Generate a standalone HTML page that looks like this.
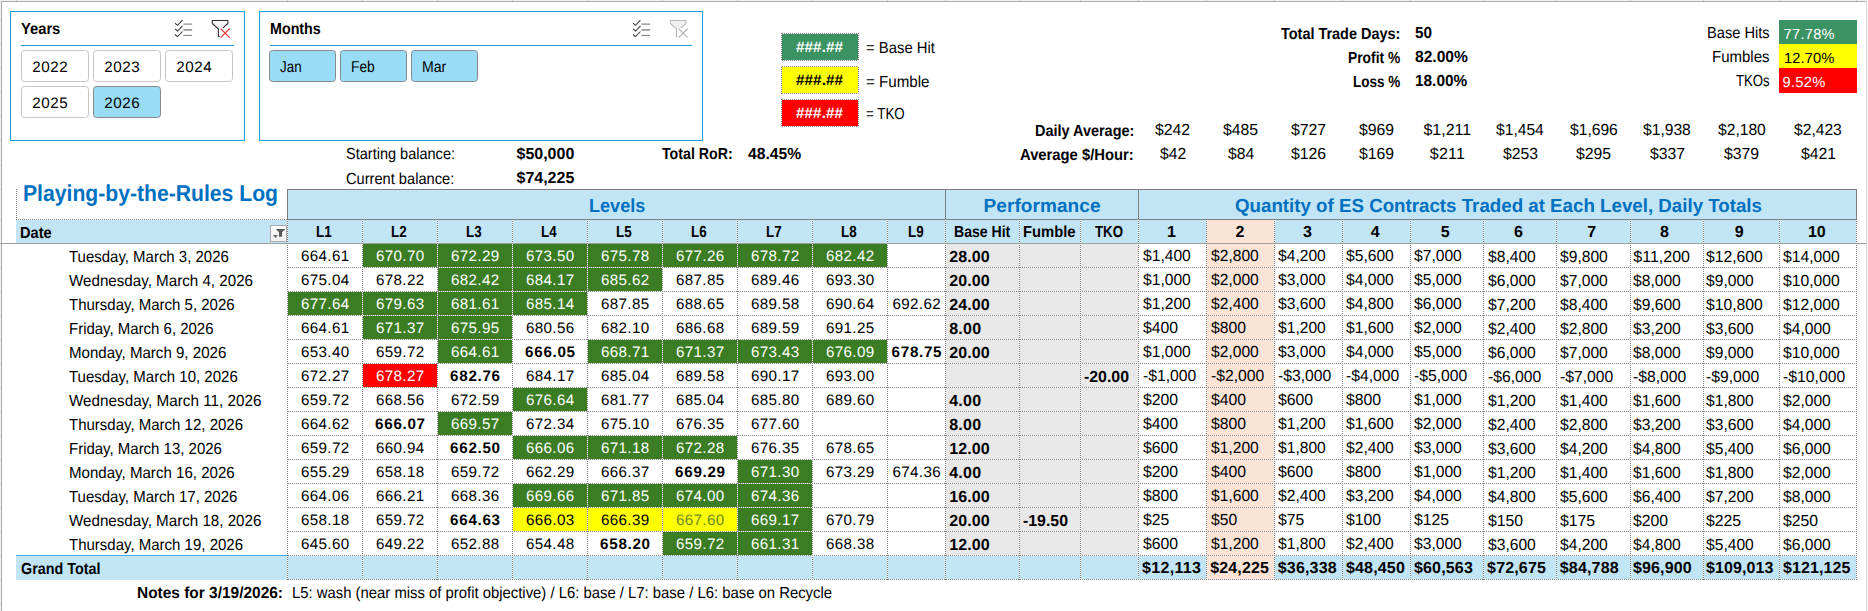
<!DOCTYPE html>
<html lang="en"><head><meta charset="utf-8"><title>Playing-by-the-Rules Log</title>
<style>
html,body{margin:0;padding:0;background:#fff}
body{width:1868px;height:611px;overflow:hidden;position:relative;font-family:"Liberation Sans",Arial,sans-serif;color:#000;text-rendering:geometricPrecision}
#sheet{position:absolute;left:0;top:0;width:1868px;height:611px;overflow:hidden;background:#fff}
.r{position:absolute}
.t{position:absolute;white-space:nowrap;line-height:20px;height:20px;transform-origin:0 50%}
.hd{position:absolute;height:1px;background-color:#fff;background-image:repeating-linear-gradient(90deg,#808080 0,#808080 1px,transparent 1px,transparent 2px)}
.vd{position:absolute;width:1px;background-color:#fff;background-image:repeating-linear-gradient(180deg,#808080 0,#808080 1px,transparent 1px,transparent 2px)}
.sl{position:absolute;border:1px solid #1e9bd7;background:#fff;box-sizing:content-box}
.bt{position:absolute;width:66px;height:30px;border:1px solid #c6c6c6;border-radius:3.5px;background:#fff;box-sizing:content-box}
.bt.sel{background:#99dcf8;border-color:#8a8a8a}
.fb{position:absolute;width:15px;height:15px;border:1px solid #a9a9a9;background:linear-gradient(#fff,#f1f1f1);box-sizing:content-box;overflow:hidden}
.fb svg{position:absolute;left:0;top:0}
.ic{position:absolute;overflow:visible}
</style></head>
<body><div id="sheet">
<section id="sheet-chrome" aria-label="Sheet frame">
<div class="r" style="left:0px;top:0px;width:1868px;height:1px;background:#f3f3f3;"></div>
<div class="r" style="left:0px;top:1px;width:1px;height:610px;background:#f3f3f3;"></div>
<div class="r" style="left:16px;top:0px;width:1px;height:1px;background:#cfcfcf;"></div>
<div class="r" style="left:287px;top:0px;width:1px;height:1px;background:#cfcfcf;"></div>
<div class="r" style="left:362px;top:0px;width:1px;height:1px;background:#cfcfcf;"></div>
<div class="r" style="left:437px;top:0px;width:1px;height:1px;background:#cfcfcf;"></div>
<div class="r" style="left:512px;top:0px;width:1px;height:1px;background:#cfcfcf;"></div>
<div class="r" style="left:587px;top:0px;width:1px;height:1px;background:#cfcfcf;"></div>
<div class="r" style="left:662px;top:0px;width:1px;height:1px;background:#cfcfcf;"></div>
<div class="r" style="left:737px;top:0px;width:1px;height:1px;background:#cfcfcf;"></div>
<div class="r" style="left:812px;top:0px;width:1px;height:1px;background:#cfcfcf;"></div>
<div class="r" style="left:887px;top:0px;width:1px;height:1px;background:#cfcfcf;"></div>
<div class="r" style="left:945px;top:0px;width:1px;height:1px;background:#cfcfcf;"></div>
<div class="r" style="left:1019px;top:0px;width:1px;height:1px;background:#cfcfcf;"></div>
<div class="r" style="left:1080px;top:0px;width:1px;height:1px;background:#cfcfcf;"></div>
<div class="r" style="left:1138px;top:0px;width:1px;height:1px;background:#cfcfcf;"></div>
<div class="r" style="left:1206px;top:0px;width:1px;height:1px;background:#cfcfcf;"></div>
<div class="r" style="left:1274px;top:0px;width:1px;height:1px;background:#cfcfcf;"></div>
<div class="r" style="left:1342px;top:0px;width:1px;height:1px;background:#cfcfcf;"></div>
<div class="r" style="left:1410px;top:0px;width:1px;height:1px;background:#cfcfcf;"></div>
<div class="r" style="left:1483px;top:0px;width:1px;height:1px;background:#cfcfcf;"></div>
<div class="r" style="left:1556px;top:0px;width:1px;height:1px;background:#cfcfcf;"></div>
<div class="r" style="left:1630px;top:0px;width:1px;height:1px;background:#cfcfcf;"></div>
<div class="r" style="left:1703px;top:0px;width:1px;height:1px;background:#cfcfcf;"></div>
<div class="r" style="left:1779px;top:0px;width:1px;height:1px;background:#cfcfcf;"></div>
<div class="r" style="left:1856px;top:0px;width:1px;height:1px;background:#cfcfcf;"></div>
<div class="r" style="left:0px;top:20px;width:1px;height:1px;background:#d6d6d6;"></div>
<div class="r" style="left:0px;top:44px;width:1px;height:1px;background:#d6d6d6;"></div>
<div class="r" style="left:0px;top:68px;width:1px;height:1px;background:#d6d6d6;"></div>
<div class="r" style="left:0px;top:92px;width:1px;height:1px;background:#d6d6d6;"></div>
<div class="r" style="left:0px;top:116px;width:1px;height:1px;background:#d6d6d6;"></div>
<div class="r" style="left:0px;top:140px;width:1px;height:1px;background:#d6d6d6;"></div>
<div class="r" style="left:0px;top:165px;width:1px;height:1px;background:#d6d6d6;"></div>
<div class="r" style="left:0px;top:189px;width:1px;height:1px;background:#d6d6d6;"></div>
<div class="r" style="left:0px;top:219px;width:1px;height:1px;background:#d6d6d6;"></div>
<div class="r" style="left:0px;top:267px;width:1px;height:1px;background:#d6d6d6;"></div>
<div class="r" style="left:0px;top:291px;width:1px;height:1px;background:#d6d6d6;"></div>
<div class="r" style="left:0px;top:315px;width:1px;height:1px;background:#d6d6d6;"></div>
<div class="r" style="left:0px;top:339px;width:1px;height:1px;background:#d6d6d6;"></div>
<div class="r" style="left:0px;top:363px;width:1px;height:1px;background:#d6d6d6;"></div>
<div class="r" style="left:0px;top:387px;width:1px;height:1px;background:#d6d6d6;"></div>
<div class="r" style="left:0px;top:411px;width:1px;height:1px;background:#d6d6d6;"></div>
<div class="r" style="left:0px;top:435px;width:1px;height:1px;background:#d6d6d6;"></div>
<div class="r" style="left:0px;top:459px;width:1px;height:1px;background:#d6d6d6;"></div>
<div class="r" style="left:0px;top:483px;width:1px;height:1px;background:#d6d6d6;"></div>
<div class="r" style="left:0px;top:507px;width:1px;height:1px;background:#d6d6d6;"></div>
<div class="r" style="left:0px;top:531px;width:1px;height:1px;background:#d6d6d6;"></div>
<div class="r" style="left:0px;top:555px;width:1px;height:1px;background:#d6d6d6;"></div>
<div class="r" style="left:0px;top:579px;width:1px;height:1px;background:#d6d6d6;"></div>
<div class="r" style="left:0px;top:603px;width:1px;height:1px;background:#d6d6d6;"></div>
<div class="r" style="left:1px;top:1px;width:1865px;height:1px;background:#ababab;"></div>
<div class="r" style="left:1px;top:2px;width:1px;height:609px;background:#ababab;"></div>
<div class="r" style="left:1866px;top:1px;width:1px;height:610px;background:#dedede;"></div>
<div class="r" style="left:1867px;top:1px;width:1px;height:610px;background:#f0f0f0;"></div>
</section>
<section id="log-table" aria-label="Playing-by-the-Rules Log pivot table">
<div class="r" style="left:287px;top:189px;width:1570px;height:31px;background:#c1e5f5;"></div>
<div class="r" style="left:16px;top:220px;width:1840px;height:23px;background:#c1e5f5;"></div>
<div class="r" style="left:1206px;top:220px;width:68px;height:23px;background:#fbe3d6;"></div>
<div class="r" style="left:946px;top:244px;width:192px;height:311px;background:#e8e8e8;"></div>
<div class="r" style="left:1207px;top:244px;width:67px;height:335px;background:#fbe3d6;"></div>
<div class="r" style="left:16px;top:556px;width:1190px;height:24px;background:#c1e5f5;"></div>
<div class="r" style="left:1274px;top:556px;width:582px;height:24px;background:#c1e5f5;"></div>
<div class="r" style="left:16px;top:555px;width:271px;height:1px;background:#44a9e0;"></div>
<div class="r" style="left:363px;top:244px;width:74px;height:23px;background:#3b7d23;"></div>
<div class="r" style="left:438px;top:244px;width:74px;height:23px;background:#3b7d23;"></div>
<div class="r" style="left:513px;top:244px;width:74px;height:23px;background:#3b7d23;"></div>
<div class="r" style="left:588px;top:244px;width:74px;height:23px;background:#3b7d23;"></div>
<div class="r" style="left:663px;top:244px;width:74px;height:23px;background:#3b7d23;"></div>
<div class="r" style="left:738px;top:244px;width:74px;height:23px;background:#3b7d23;"></div>
<div class="r" style="left:813px;top:244px;width:74px;height:23px;background:#3b7d23;"></div>
<div class="r" style="left:438px;top:268px;width:74px;height:23px;background:#3b7d23;"></div>
<div class="r" style="left:513px;top:268px;width:74px;height:23px;background:#3b7d23;"></div>
<div class="r" style="left:588px;top:268px;width:74px;height:23px;background:#3b7d23;"></div>
<div class="r" style="left:288px;top:292px;width:74px;height:23px;background:#3b7d23;"></div>
<div class="r" style="left:363px;top:292px;width:74px;height:23px;background:#3b7d23;"></div>
<div class="r" style="left:438px;top:292px;width:74px;height:23px;background:#3b7d23;"></div>
<div class="r" style="left:513px;top:292px;width:74px;height:23px;background:#3b7d23;"></div>
<div class="r" style="left:363px;top:316px;width:74px;height:23px;background:#3b7d23;"></div>
<div class="r" style="left:438px;top:316px;width:74px;height:23px;background:#3b7d23;"></div>
<div class="r" style="left:438px;top:340px;width:74px;height:23px;background:#3b7d23;"></div>
<div class="r" style="left:588px;top:340px;width:74px;height:23px;background:#3b7d23;"></div>
<div class="r" style="left:663px;top:340px;width:74px;height:23px;background:#3b7d23;"></div>
<div class="r" style="left:738px;top:340px;width:74px;height:23px;background:#3b7d23;"></div>
<div class="r" style="left:813px;top:340px;width:74px;height:23px;background:#3b7d23;"></div>
<div class="r" style="left:363px;top:364px;width:74px;height:23px;background:#ff0000;"></div>
<div class="r" style="left:513px;top:388px;width:74px;height:23px;background:#3b7d23;"></div>
<div class="r" style="left:438px;top:412px;width:74px;height:23px;background:#3b7d23;"></div>
<div class="r" style="left:513px;top:436px;width:74px;height:23px;background:#3b7d23;"></div>
<div class="r" style="left:588px;top:436px;width:74px;height:23px;background:#3b7d23;"></div>
<div class="r" style="left:663px;top:436px;width:74px;height:23px;background:#3b7d23;"></div>
<div class="r" style="left:738px;top:460px;width:74px;height:23px;background:#3b7d23;"></div>
<div class="r" style="left:513px;top:484px;width:74px;height:23px;background:#3b7d23;"></div>
<div class="r" style="left:588px;top:484px;width:74px;height:23px;background:#3b7d23;"></div>
<div class="r" style="left:663px;top:484px;width:74px;height:23px;background:#3b7d23;"></div>
<div class="r" style="left:738px;top:484px;width:74px;height:23px;background:#3b7d23;"></div>
<div class="r" style="left:513px;top:508px;width:74px;height:23px;background:#ffff00;"></div>
<div class="r" style="left:588px;top:508px;width:74px;height:23px;background:#ffff00;"></div>
<div class="r" style="left:663px;top:508px;width:74px;height:23px;background:#ffff00;"></div>
<div class="r" style="left:738px;top:508px;width:74px;height:23px;background:#3b7d23;"></div>
<div class="r" style="left:663px;top:532px;width:74px;height:23px;background:#3b7d23;"></div>
<div class="r" style="left:738px;top:532px;width:74px;height:23px;background:#3b7d23;"></div>
<div class="hd" style="left:287px;top:267px;width:1570px;background-position:1px 0"></div>
<div class="hd" style="left:287px;top:291px;width:1570px;background-position:1px 0"></div>
<div class="hd" style="left:287px;top:315px;width:1570px;background-position:1px 0"></div>
<div class="hd" style="left:287px;top:339px;width:1570px;background-position:1px 0"></div>
<div class="hd" style="left:287px;top:363px;width:1570px;background-position:1px 0"></div>
<div class="hd" style="left:287px;top:387px;width:1570px;background-position:1px 0"></div>
<div class="hd" style="left:287px;top:411px;width:1570px;background-position:1px 0"></div>
<div class="hd" style="left:287px;top:435px;width:1570px;background-position:1px 0"></div>
<div class="hd" style="left:287px;top:459px;width:1570px;background-position:1px 0"></div>
<div class="hd" style="left:287px;top:483px;width:1570px;background-position:1px 0"></div>
<div class="hd" style="left:287px;top:507px;width:1570px;background-position:1px 0"></div>
<div class="hd" style="left:287px;top:531px;width:1570px;background-position:1px 0"></div>
<div class="hd" style="left:287px;top:555px;width:1570px;background-position:1px 0"></div>
<div class="hd" style="left:287px;top:579px;width:1570px;background-position:1px 0"></div>
<div class="vd" style="left:287px;top:220px;height:360px;background-position:0 1px"></div>
<div class="vd" style="left:362px;top:220px;height:360px;background-position:0 1px"></div>
<div class="vd" style="left:437px;top:220px;height:360px;background-position:0 1px"></div>
<div class="vd" style="left:512px;top:220px;height:360px;background-position:0 1px"></div>
<div class="vd" style="left:587px;top:220px;height:360px;background-position:0 1px"></div>
<div class="vd" style="left:662px;top:220px;height:360px;background-position:0 1px"></div>
<div class="vd" style="left:737px;top:220px;height:360px;background-position:0 1px"></div>
<div class="vd" style="left:812px;top:220px;height:360px;background-position:0 1px"></div>
<div class="vd" style="left:887px;top:220px;height:360px;background-position:0 1px"></div>
<div class="vd" style="left:945px;top:220px;height:360px;background-position:0 1px"></div>
<div class="vd" style="left:1019px;top:220px;height:360px;background-position:0 1px"></div>
<div class="vd" style="left:1080px;top:220px;height:360px;background-position:0 1px"></div>
<div class="vd" style="left:1138px;top:220px;height:360px;background-position:0 1px"></div>
<div class="vd" style="left:1206px;top:220px;height:360px;background-position:0 1px"></div>
<div class="vd" style="left:1274px;top:220px;height:360px;background-position:0 1px"></div>
<div class="vd" style="left:1342px;top:220px;height:360px;background-position:0 1px"></div>
<div class="vd" style="left:1410px;top:220px;height:360px;background-position:0 1px"></div>
<div class="vd" style="left:1483px;top:220px;height:360px;background-position:0 1px"></div>
<div class="vd" style="left:1556px;top:220px;height:360px;background-position:0 1px"></div>
<div class="vd" style="left:1630px;top:220px;height:360px;background-position:0 1px"></div>
<div class="vd" style="left:1703px;top:220px;height:360px;background-position:0 1px"></div>
<div class="vd" style="left:1779px;top:220px;height:360px;background-position:0 1px"></div>
<div class="vd" style="left:1856px;top:220px;height:360px;background-position:0 1px"></div>
<div class="hd" style="left:16px;top:219px;width:271px;background-position:0px 0"></div>
<div class="vd" style="left:16px;top:189px;height:31px;background-position:0 0px"></div>
<div class="r" style="left:287px;top:189px;width:1570px;height:1px;background:#7f7f7f;"></div>
<div class="r" style="left:287px;top:219px;width:1570px;height:1px;background:#7f7f7f;"></div>
<div class="r" style="left:287px;top:189px;width:1px;height:31px;background:#7f7f7f;"></div>
<div class="r" style="left:945px;top:189px;width:1px;height:31px;background:#7f7f7f;"></div>
<div class="r" style="left:1138px;top:189px;width:1px;height:31px;background:#7f7f7f;"></div>
<div class="r" style="left:1856px;top:189px;width:1px;height:31px;background:#7f7f7f;"></div>
<div class="r" style="left:0px;top:243px;width:1866px;height:1px;background:#9e9e9e;"></div>
<div class="t " style="left:69.00px;top:248px;font-size:16px;transform:scaleX(0.9359);">Tuesday, March 3, 2026</div>
<div class="t " style="left:300.95px;top:247px;font-size:15.2px;letter-spacing:0.361px;">664.61</div>
<div class="t " style="left:375.95px;top:247px;font-size:15.2px;letter-spacing:0.361px;color:#fff;">670.70</div>
<div class="t " style="left:450.95px;top:247px;font-size:15.2px;letter-spacing:0.361px;color:#fff;">672.29</div>
<div class="t " style="left:525.95px;top:247px;font-size:15.2px;letter-spacing:0.361px;color:#fff;">673.50</div>
<div class="t " style="left:600.95px;top:247px;font-size:15.2px;letter-spacing:0.361px;color:#fff;">675.78</div>
<div class="t " style="left:675.95px;top:247px;font-size:15.2px;letter-spacing:0.361px;color:#fff;">677.26</div>
<div class="t " style="left:750.95px;top:247px;font-size:15.2px;letter-spacing:0.361px;color:#fff;">678.72</div>
<div class="t " style="left:825.95px;top:247px;font-size:15.2px;letter-spacing:0.361px;color:#fff;">682.42</div>
<div class="t " style="left:949.20px;top:248px;font-size:16px;letter-spacing:0.092px;font-weight:700;">28.00</div>
<div class="t " style="left:1142.50px;top:247px;font-size:16px;transform:scaleX(0.9766);">$1,400</div>
<div class="t " style="left:1210.60px;top:247px;font-size:16px;transform:scaleX(0.9766);">$2,800</div>
<div class="t " style="left:1278.20px;top:247px;font-size:16px;transform:scaleX(0.9766);">$4,200</div>
<div class="t " style="left:1346.40px;top:247px;font-size:16px;transform:scaleX(0.9766);">$5,600</div>
<div class="t " style="left:1414.40px;top:247px;font-size:16px;transform:scaleX(0.9766);">$7,000</div>
<div class="t " style="left:1487.50px;top:248px;font-size:16px;transform:scaleX(0.9766);">$8,400</div>
<div class="t " style="left:1560.20px;top:248px;font-size:16px;transform:scaleX(0.9766);">$9,800</div>
<div class="t " style="left:1633.30px;top:248px;font-size:16px;letter-spacing:0.007px;">$11,200</div>
<div class="t " style="left:1706.40px;top:248px;font-size:16px;transform:scaleX(0.9803);">$12,600</div>
<div class="t " style="left:1783.40px;top:248px;font-size:16px;transform:scaleX(0.9803);">$14,000</div>
<div class="t " style="left:69.00px;top:272px;font-size:16px;transform:scaleX(0.9475);">Wednesday, March 4, 2026</div>
<div class="t " style="left:300.95px;top:271px;font-size:15.2px;letter-spacing:0.361px;">675.04</div>
<div class="t " style="left:375.95px;top:271px;font-size:15.2px;letter-spacing:0.361px;">678.22</div>
<div class="t " style="left:450.95px;top:271px;font-size:15.2px;letter-spacing:0.361px;color:#fff;">682.42</div>
<div class="t " style="left:525.95px;top:271px;font-size:15.2px;letter-spacing:0.361px;color:#fff;">684.17</div>
<div class="t " style="left:600.95px;top:271px;font-size:15.2px;letter-spacing:0.361px;color:#fff;">685.62</div>
<div class="t " style="left:675.95px;top:271px;font-size:15.2px;letter-spacing:0.361px;">687.85</div>
<div class="t " style="left:750.95px;top:271px;font-size:15.2px;letter-spacing:0.361px;">689.46</div>
<div class="t " style="left:825.95px;top:271px;font-size:15.2px;letter-spacing:0.361px;">693.30</div>
<div class="t " style="left:949.20px;top:272px;font-size:16px;letter-spacing:0.092px;font-weight:700;">20.00</div>
<div class="t " style="left:1142.50px;top:271px;font-size:16px;transform:scaleX(0.9766);">$1,000</div>
<div class="t " style="left:1210.60px;top:271px;font-size:16px;transform:scaleX(0.9766);">$2,000</div>
<div class="t " style="left:1278.20px;top:271px;font-size:16px;transform:scaleX(0.9766);">$3,000</div>
<div class="t " style="left:1346.40px;top:271px;font-size:16px;transform:scaleX(0.9766);">$4,000</div>
<div class="t " style="left:1414.40px;top:271px;font-size:16px;transform:scaleX(0.9766);">$5,000</div>
<div class="t " style="left:1487.50px;top:272px;font-size:16px;transform:scaleX(0.9766);">$6,000</div>
<div class="t " style="left:1560.20px;top:272px;font-size:16px;transform:scaleX(0.9766);">$7,000</div>
<div class="t " style="left:1633.30px;top:272px;font-size:16px;transform:scaleX(0.9766);">$8,000</div>
<div class="t " style="left:1706.40px;top:272px;font-size:16px;transform:scaleX(0.9766);">$9,000</div>
<div class="t " style="left:1783.40px;top:272px;font-size:16px;transform:scaleX(0.9803);">$10,000</div>
<div class="t " style="left:69.00px;top:296px;font-size:16px;transform:scaleX(0.9372);">Thursday, March 5, 2026</div>
<div class="t " style="left:300.95px;top:295px;font-size:15.2px;letter-spacing:0.361px;color:#fff;">677.64</div>
<div class="t " style="left:375.95px;top:295px;font-size:15.2px;letter-spacing:0.361px;color:#fff;">679.63</div>
<div class="t " style="left:450.95px;top:295px;font-size:15.2px;letter-spacing:0.361px;color:#fff;">681.61</div>
<div class="t " style="left:525.95px;top:295px;font-size:15.2px;letter-spacing:0.361px;color:#fff;">685.14</div>
<div class="t " style="left:600.95px;top:295px;font-size:15.2px;letter-spacing:0.361px;">687.85</div>
<div class="t " style="left:675.95px;top:295px;font-size:15.2px;letter-spacing:0.361px;">688.65</div>
<div class="t " style="left:750.95px;top:295px;font-size:15.2px;letter-spacing:0.361px;">689.58</div>
<div class="t " style="left:825.95px;top:295px;font-size:15.2px;letter-spacing:0.361px;">690.64</div>
<div class="t " style="left:892.45px;top:295px;font-size:15.2px;letter-spacing:0.361px;">692.62</div>
<div class="t " style="left:949.20px;top:296px;font-size:16px;letter-spacing:0.092px;font-weight:700;">24.00</div>
<div class="t " style="left:1142.50px;top:295px;font-size:16px;transform:scaleX(0.9766);">$1,200</div>
<div class="t " style="left:1210.60px;top:295px;font-size:16px;transform:scaleX(0.9766);">$2,400</div>
<div class="t " style="left:1278.20px;top:295px;font-size:16px;transform:scaleX(0.9766);">$3,600</div>
<div class="t " style="left:1346.40px;top:295px;font-size:16px;transform:scaleX(0.9766);">$4,800</div>
<div class="t " style="left:1414.40px;top:295px;font-size:16px;transform:scaleX(0.9766);">$6,000</div>
<div class="t " style="left:1487.50px;top:296px;font-size:16px;transform:scaleX(0.9766);">$7,200</div>
<div class="t " style="left:1560.20px;top:296px;font-size:16px;transform:scaleX(0.9766);">$8,400</div>
<div class="t " style="left:1633.30px;top:296px;font-size:16px;transform:scaleX(0.9766);">$9,600</div>
<div class="t " style="left:1706.40px;top:296px;font-size:16px;transform:scaleX(0.9803);">$10,800</div>
<div class="t " style="left:1783.40px;top:296px;font-size:16px;transform:scaleX(0.9803);">$12,000</div>
<div class="t " style="left:69.00px;top:320px;font-size:16px;transform:scaleX(0.9357);">Friday, March 6, 2026</div>
<div class="t " style="left:300.95px;top:319px;font-size:15.2px;letter-spacing:0.361px;">664.61</div>
<div class="t " style="left:375.95px;top:319px;font-size:15.2px;letter-spacing:0.361px;color:#fff;">671.37</div>
<div class="t " style="left:450.95px;top:319px;font-size:15.2px;letter-spacing:0.361px;color:#fff;">675.95</div>
<div class="t " style="left:525.95px;top:319px;font-size:15.2px;letter-spacing:0.361px;">680.56</div>
<div class="t " style="left:600.95px;top:319px;font-size:15.2px;letter-spacing:0.361px;">682.10</div>
<div class="t " style="left:675.95px;top:319px;font-size:15.2px;letter-spacing:0.361px;">686.68</div>
<div class="t " style="left:750.95px;top:319px;font-size:15.2px;letter-spacing:0.361px;">689.59</div>
<div class="t " style="left:825.95px;top:319px;font-size:15.2px;letter-spacing:0.361px;">691.25</div>
<div class="t " style="left:949.20px;top:320px;font-size:16px;letter-spacing:0.288px;font-weight:700;">8.00</div>
<div class="t " style="left:1142.50px;top:319px;font-size:16px;transform:scaleX(0.9860);">$400</div>
<div class="t " style="left:1210.60px;top:319px;font-size:16px;transform:scaleX(0.9860);">$800</div>
<div class="t " style="left:1278.20px;top:319px;font-size:16px;transform:scaleX(0.9766);">$1,200</div>
<div class="t " style="left:1346.40px;top:319px;font-size:16px;transform:scaleX(0.9766);">$1,600</div>
<div class="t " style="left:1414.40px;top:319px;font-size:16px;transform:scaleX(0.9766);">$2,000</div>
<div class="t " style="left:1487.50px;top:320px;font-size:16px;transform:scaleX(0.9766);">$2,400</div>
<div class="t " style="left:1560.20px;top:320px;font-size:16px;transform:scaleX(0.9766);">$2,800</div>
<div class="t " style="left:1633.30px;top:320px;font-size:16px;transform:scaleX(0.9766);">$3,200</div>
<div class="t " style="left:1706.40px;top:320px;font-size:16px;transform:scaleX(0.9766);">$3,600</div>
<div class="t " style="left:1783.40px;top:320px;font-size:16px;transform:scaleX(0.9766);">$4,000</div>
<div class="t " style="left:69.00px;top:344px;font-size:16px;transform:scaleX(0.9424);">Monday, March 9, 2026</div>
<div class="t " style="left:300.95px;top:343px;font-size:15.2px;letter-spacing:0.361px;">653.40</div>
<div class="t " style="left:375.95px;top:343px;font-size:15.2px;letter-spacing:0.361px;">659.72</div>
<div class="t " style="left:450.95px;top:343px;font-size:15.2px;letter-spacing:0.361px;color:#fff;">664.61</div>
<div class="t " style="left:525.10px;top:343px;font-size:15.2px;letter-spacing:0.701px;font-weight:700;">666.05</div>
<div class="t " style="left:600.95px;top:343px;font-size:15.2px;letter-spacing:0.361px;color:#fff;">668.71</div>
<div class="t " style="left:675.95px;top:343px;font-size:15.2px;letter-spacing:0.361px;color:#fff;">671.37</div>
<div class="t " style="left:750.95px;top:343px;font-size:15.2px;letter-spacing:0.361px;color:#fff;">673.43</div>
<div class="t " style="left:825.95px;top:343px;font-size:15.2px;letter-spacing:0.361px;color:#fff;">676.09</div>
<div class="t " style="left:891.60px;top:343px;font-size:15.2px;letter-spacing:0.701px;font-weight:700;">678.75</div>
<div class="t " style="left:949.20px;top:344px;font-size:16px;letter-spacing:0.092px;font-weight:700;">20.00</div>
<div class="t " style="left:1142.50px;top:343px;font-size:16px;transform:scaleX(0.9766);">$1,000</div>
<div class="t " style="left:1210.60px;top:343px;font-size:16px;transform:scaleX(0.9766);">$2,000</div>
<div class="t " style="left:1278.20px;top:343px;font-size:16px;transform:scaleX(0.9766);">$3,000</div>
<div class="t " style="left:1346.40px;top:343px;font-size:16px;transform:scaleX(0.9766);">$4,000</div>
<div class="t " style="left:1414.40px;top:343px;font-size:16px;transform:scaleX(0.9766);">$5,000</div>
<div class="t " style="left:1487.50px;top:344px;font-size:16px;transform:scaleX(0.9766);">$6,000</div>
<div class="t " style="left:1560.20px;top:344px;font-size:16px;transform:scaleX(0.9766);">$7,000</div>
<div class="t " style="left:1633.30px;top:344px;font-size:16px;transform:scaleX(0.9766);">$8,000</div>
<div class="t " style="left:1706.40px;top:344px;font-size:16px;transform:scaleX(0.9766);">$9,000</div>
<div class="t " style="left:1783.40px;top:344px;font-size:16px;transform:scaleX(0.9803);">$10,000</div>
<div class="t " style="left:69.00px;top:368px;font-size:16px;transform:scaleX(0.9395);">Tuesday, March 10, 2026</div>
<div class="t " style="left:300.95px;top:367px;font-size:15.2px;letter-spacing:0.361px;">672.27</div>
<div class="t " style="left:375.95px;top:367px;font-size:15.2px;letter-spacing:0.361px;color:#fff;">678.27</div>
<div class="t " style="left:450.10px;top:367px;font-size:15.2px;letter-spacing:0.701px;font-weight:700;">682.76</div>
<div class="t " style="left:525.95px;top:367px;font-size:15.2px;letter-spacing:0.361px;">684.17</div>
<div class="t " style="left:600.95px;top:367px;font-size:15.2px;letter-spacing:0.361px;">685.04</div>
<div class="t " style="left:675.95px;top:367px;font-size:15.2px;letter-spacing:0.361px;">689.58</div>
<div class="t " style="left:750.95px;top:367px;font-size:15.2px;letter-spacing:0.361px;">690.17</div>
<div class="t " style="left:825.95px;top:367px;font-size:15.2px;letter-spacing:0.361px;">693.00</div>
<div class="t " style="left:1084.30px;top:368px;font-size:16px;font-weight:700;transform:scaleX(0.9921);">-20.00</div>
<div class="t " style="left:1142.50px;top:367px;font-size:16px;transform:scaleX(0.9821);">-$1,000</div>
<div class="t " style="left:1210.60px;top:367px;font-size:16px;transform:scaleX(0.9821);">-$2,000</div>
<div class="t " style="left:1278.20px;top:367px;font-size:16px;transform:scaleX(0.9821);">-$3,000</div>
<div class="t " style="left:1346.40px;top:367px;font-size:16px;transform:scaleX(0.9821);">-$4,000</div>
<div class="t " style="left:1414.40px;top:367px;font-size:16px;transform:scaleX(0.9821);">-$5,000</div>
<div class="t " style="left:1487.50px;top:368px;font-size:16px;transform:scaleX(0.9821);">-$6,000</div>
<div class="t " style="left:1560.20px;top:368px;font-size:16px;transform:scaleX(0.9821);">-$7,000</div>
<div class="t " style="left:1633.30px;top:368px;font-size:16px;transform:scaleX(0.9821);">-$8,000</div>
<div class="t " style="left:1706.40px;top:368px;font-size:16px;transform:scaleX(0.9821);">-$9,000</div>
<div class="t " style="left:1783.40px;top:368px;font-size:16px;transform:scaleX(0.9847);">-$10,000</div>
<div class="t " style="left:69.00px;top:392px;font-size:16px;transform:scaleX(0.9529);">Wednesday, March 11, 2026</div>
<div class="t " style="left:300.95px;top:391px;font-size:15.2px;letter-spacing:0.361px;">659.72</div>
<div class="t " style="left:375.95px;top:391px;font-size:15.2px;letter-spacing:0.361px;">668.56</div>
<div class="t " style="left:450.95px;top:391px;font-size:15.2px;letter-spacing:0.361px;">672.59</div>
<div class="t " style="left:525.95px;top:391px;font-size:15.2px;letter-spacing:0.361px;color:#fff;">676.64</div>
<div class="t " style="left:600.95px;top:391px;font-size:15.2px;letter-spacing:0.361px;">681.77</div>
<div class="t " style="left:675.95px;top:391px;font-size:15.2px;letter-spacing:0.361px;">685.04</div>
<div class="t " style="left:750.95px;top:391px;font-size:15.2px;letter-spacing:0.361px;">685.80</div>
<div class="t " style="left:825.95px;top:391px;font-size:15.2px;letter-spacing:0.361px;">689.60</div>
<div class="t " style="left:949.20px;top:392px;font-size:16px;letter-spacing:0.288px;font-weight:700;">4.00</div>
<div class="t " style="left:1142.50px;top:391px;font-size:16px;transform:scaleX(0.9860);">$200</div>
<div class="t " style="left:1210.60px;top:391px;font-size:16px;transform:scaleX(0.9860);">$400</div>
<div class="t " style="left:1278.20px;top:391px;font-size:16px;transform:scaleX(0.9860);">$600</div>
<div class="t " style="left:1346.40px;top:391px;font-size:16px;transform:scaleX(0.9860);">$800</div>
<div class="t " style="left:1414.40px;top:391px;font-size:16px;transform:scaleX(0.9766);">$1,000</div>
<div class="t " style="left:1487.50px;top:392px;font-size:16px;transform:scaleX(0.9766);">$1,200</div>
<div class="t " style="left:1560.20px;top:392px;font-size:16px;transform:scaleX(0.9766);">$1,400</div>
<div class="t " style="left:1633.30px;top:392px;font-size:16px;transform:scaleX(0.9766);">$1,600</div>
<div class="t " style="left:1706.40px;top:392px;font-size:16px;transform:scaleX(0.9766);">$1,800</div>
<div class="t " style="left:1783.40px;top:392px;font-size:16px;transform:scaleX(0.9766);">$2,000</div>
<div class="t " style="left:69.00px;top:416px;font-size:16px;transform:scaleX(0.9376);">Thursday, March 12, 2026</div>
<div class="t " style="left:300.95px;top:415px;font-size:15.2px;letter-spacing:0.361px;">664.62</div>
<div class="t " style="left:375.10px;top:415px;font-size:15.2px;letter-spacing:0.701px;font-weight:700;">666.07</div>
<div class="t " style="left:450.95px;top:415px;font-size:15.2px;letter-spacing:0.361px;color:#fff;">669.57</div>
<div class="t " style="left:525.95px;top:415px;font-size:15.2px;letter-spacing:0.361px;">672.34</div>
<div class="t " style="left:600.95px;top:415px;font-size:15.2px;letter-spacing:0.361px;">675.10</div>
<div class="t " style="left:675.95px;top:415px;font-size:15.2px;letter-spacing:0.361px;">676.35</div>
<div class="t " style="left:750.95px;top:415px;font-size:15.2px;letter-spacing:0.361px;">677.60</div>
<div class="t " style="left:949.20px;top:416px;font-size:16px;letter-spacing:0.288px;font-weight:700;">8.00</div>
<div class="t " style="left:1142.50px;top:415px;font-size:16px;transform:scaleX(0.9860);">$400</div>
<div class="t " style="left:1210.60px;top:415px;font-size:16px;transform:scaleX(0.9860);">$800</div>
<div class="t " style="left:1278.20px;top:415px;font-size:16px;transform:scaleX(0.9766);">$1,200</div>
<div class="t " style="left:1346.40px;top:415px;font-size:16px;transform:scaleX(0.9766);">$1,600</div>
<div class="t " style="left:1414.40px;top:415px;font-size:16px;transform:scaleX(0.9766);">$2,000</div>
<div class="t " style="left:1487.50px;top:416px;font-size:16px;transform:scaleX(0.9766);">$2,400</div>
<div class="t " style="left:1560.20px;top:416px;font-size:16px;transform:scaleX(0.9766);">$2,800</div>
<div class="t " style="left:1633.30px;top:416px;font-size:16px;transform:scaleX(0.9766);">$3,200</div>
<div class="t " style="left:1706.40px;top:416px;font-size:16px;transform:scaleX(0.9766);">$3,600</div>
<div class="t " style="left:1783.40px;top:416px;font-size:16px;transform:scaleX(0.9766);">$4,000</div>
<div class="t " style="left:69.00px;top:440px;font-size:16px;transform:scaleX(0.9361);">Friday, March 13, 2026</div>
<div class="t " style="left:300.95px;top:439px;font-size:15.2px;letter-spacing:0.361px;">659.72</div>
<div class="t " style="left:375.95px;top:439px;font-size:15.2px;letter-spacing:0.361px;">660.94</div>
<div class="t " style="left:450.10px;top:439px;font-size:15.2px;letter-spacing:0.701px;font-weight:700;">662.50</div>
<div class="t " style="left:525.95px;top:439px;font-size:15.2px;letter-spacing:0.361px;color:#fff;">666.06</div>
<div class="t " style="left:600.95px;top:439px;font-size:15.2px;letter-spacing:0.361px;color:#fff;">671.18</div>
<div class="t " style="left:675.95px;top:439px;font-size:15.2px;letter-spacing:0.361px;color:#fff;">672.28</div>
<div class="t " style="left:750.95px;top:439px;font-size:15.2px;letter-spacing:0.361px;">676.35</div>
<div class="t " style="left:825.95px;top:439px;font-size:15.2px;letter-spacing:0.361px;">678.65</div>
<div class="t " style="left:949.20px;top:440px;font-size:16px;letter-spacing:0.092px;font-weight:700;">12.00</div>
<div class="t " style="left:1142.50px;top:439px;font-size:16px;transform:scaleX(0.9860);">$600</div>
<div class="t " style="left:1210.60px;top:439px;font-size:16px;transform:scaleX(0.9766);">$1,200</div>
<div class="t " style="left:1278.20px;top:439px;font-size:16px;transform:scaleX(0.9766);">$1,800</div>
<div class="t " style="left:1346.40px;top:439px;font-size:16px;transform:scaleX(0.9766);">$2,400</div>
<div class="t " style="left:1414.40px;top:439px;font-size:16px;transform:scaleX(0.9766);">$3,000</div>
<div class="t " style="left:1487.50px;top:440px;font-size:16px;transform:scaleX(0.9766);">$3,600</div>
<div class="t " style="left:1560.20px;top:440px;font-size:16px;transform:scaleX(0.9766);">$4,200</div>
<div class="t " style="left:1633.30px;top:440px;font-size:16px;transform:scaleX(0.9766);">$4,800</div>
<div class="t " style="left:1706.40px;top:440px;font-size:16px;transform:scaleX(0.9766);">$5,400</div>
<div class="t " style="left:1783.40px;top:440px;font-size:16px;transform:scaleX(0.9766);">$6,000</div>
<div class="t " style="left:69.00px;top:464px;font-size:16px;transform:scaleX(0.9425);">Monday, March 16, 2026</div>
<div class="t " style="left:300.95px;top:463px;font-size:15.2px;letter-spacing:0.361px;">655.29</div>
<div class="t " style="left:375.95px;top:463px;font-size:15.2px;letter-spacing:0.361px;">658.18</div>
<div class="t " style="left:450.95px;top:463px;font-size:15.2px;letter-spacing:0.361px;">659.72</div>
<div class="t " style="left:525.95px;top:463px;font-size:15.2px;letter-spacing:0.361px;">662.29</div>
<div class="t " style="left:600.95px;top:463px;font-size:15.2px;letter-spacing:0.361px;">666.37</div>
<div class="t " style="left:675.10px;top:463px;font-size:15.2px;letter-spacing:0.701px;font-weight:700;">669.29</div>
<div class="t " style="left:750.95px;top:463px;font-size:15.2px;letter-spacing:0.361px;color:#fff;">671.30</div>
<div class="t " style="left:825.95px;top:463px;font-size:15.2px;letter-spacing:0.361px;">673.29</div>
<div class="t " style="left:892.45px;top:463px;font-size:15.2px;letter-spacing:0.361px;">674.36</div>
<div class="t " style="left:949.20px;top:464px;font-size:16px;letter-spacing:0.288px;font-weight:700;">4.00</div>
<div class="t " style="left:1142.50px;top:463px;font-size:16px;transform:scaleX(0.9860);">$200</div>
<div class="t " style="left:1210.60px;top:463px;font-size:16px;transform:scaleX(0.9860);">$400</div>
<div class="t " style="left:1278.20px;top:463px;font-size:16px;transform:scaleX(0.9860);">$600</div>
<div class="t " style="left:1346.40px;top:463px;font-size:16px;transform:scaleX(0.9860);">$800</div>
<div class="t " style="left:1414.40px;top:463px;font-size:16px;transform:scaleX(0.9766);">$1,000</div>
<div class="t " style="left:1487.50px;top:464px;font-size:16px;transform:scaleX(0.9766);">$1,200</div>
<div class="t " style="left:1560.20px;top:464px;font-size:16px;transform:scaleX(0.9766);">$1,400</div>
<div class="t " style="left:1633.30px;top:464px;font-size:16px;transform:scaleX(0.9766);">$1,600</div>
<div class="t " style="left:1706.40px;top:464px;font-size:16px;transform:scaleX(0.9766);">$1,800</div>
<div class="t " style="left:1783.40px;top:464px;font-size:16px;transform:scaleX(0.9766);">$2,000</div>
<div class="t " style="left:69.00px;top:488px;font-size:16px;transform:scaleX(0.9373);">Tuesday, March 17, 2026</div>
<div class="t " style="left:300.95px;top:487px;font-size:15.2px;letter-spacing:0.361px;">664.06</div>
<div class="t " style="left:375.95px;top:487px;font-size:15.2px;letter-spacing:0.361px;">666.21</div>
<div class="t " style="left:450.95px;top:487px;font-size:15.2px;letter-spacing:0.361px;">668.36</div>
<div class="t " style="left:525.95px;top:487px;font-size:15.2px;letter-spacing:0.361px;color:#fff;">669.66</div>
<div class="t " style="left:600.95px;top:487px;font-size:15.2px;letter-spacing:0.361px;color:#fff;">671.85</div>
<div class="t " style="left:675.95px;top:487px;font-size:15.2px;letter-spacing:0.361px;color:#fff;">674.00</div>
<div class="t " style="left:750.95px;top:487px;font-size:15.2px;letter-spacing:0.361px;color:#fff;">674.36</div>
<div class="t " style="left:949.20px;top:488px;font-size:16px;letter-spacing:0.092px;font-weight:700;">16.00</div>
<div class="t " style="left:1142.50px;top:487px;font-size:16px;transform:scaleX(0.9860);">$800</div>
<div class="t " style="left:1210.60px;top:487px;font-size:16px;transform:scaleX(0.9766);">$1,600</div>
<div class="t " style="left:1278.20px;top:487px;font-size:16px;transform:scaleX(0.9766);">$2,400</div>
<div class="t " style="left:1346.40px;top:487px;font-size:16px;transform:scaleX(0.9766);">$3,200</div>
<div class="t " style="left:1414.40px;top:487px;font-size:16px;transform:scaleX(0.9766);">$4,000</div>
<div class="t " style="left:1487.50px;top:488px;font-size:16px;transform:scaleX(0.9766);">$4,800</div>
<div class="t " style="left:1560.20px;top:488px;font-size:16px;transform:scaleX(0.9766);">$5,600</div>
<div class="t " style="left:1633.30px;top:488px;font-size:16px;transform:scaleX(0.9766);">$6,400</div>
<div class="t " style="left:1706.40px;top:488px;font-size:16px;transform:scaleX(0.9766);">$7,200</div>
<div class="t " style="left:1783.40px;top:488px;font-size:16px;transform:scaleX(0.9766);">$8,000</div>
<div class="t " style="left:69.00px;top:512px;font-size:16px;transform:scaleX(0.9474);">Wednesday, March 18, 2026</div>
<div class="t " style="left:300.95px;top:511px;font-size:15.2px;letter-spacing:0.361px;">658.18</div>
<div class="t " style="left:375.95px;top:511px;font-size:15.2px;letter-spacing:0.361px;">659.72</div>
<div class="t " style="left:450.10px;top:511px;font-size:15.2px;letter-spacing:0.701px;font-weight:700;">664.63</div>
<div class="t " style="left:525.95px;top:511px;font-size:15.2px;letter-spacing:0.361px;">666.03</div>
<div class="t " style="left:600.95px;top:511px;font-size:15.2px;letter-spacing:0.361px;">666.39</div>
<div class="t " style="left:675.95px;top:511px;font-size:15.2px;letter-spacing:0.361px;color:#6b8e23;">667.60</div>
<div class="t " style="left:750.95px;top:511px;font-size:15.2px;letter-spacing:0.361px;color:#fff;">669.17</div>
<div class="t " style="left:825.95px;top:511px;font-size:15.2px;letter-spacing:0.361px;">670.79</div>
<div class="t " style="left:949.20px;top:512px;font-size:16px;letter-spacing:0.092px;font-weight:700;">20.00</div>
<div class="t " style="left:1023.00px;top:512px;font-size:16px;font-weight:700;transform:scaleX(0.9921);">-19.50</div>
<div class="t " style="left:1142.50px;top:511px;font-size:16px;transform:scaleX(0.9817);">$25</div>
<div class="t " style="left:1210.60px;top:511px;font-size:16px;transform:scaleX(0.9817);">$50</div>
<div class="t " style="left:1278.20px;top:511px;font-size:16px;transform:scaleX(0.9817);">$75</div>
<div class="t " style="left:1346.40px;top:511px;font-size:16px;transform:scaleX(0.9860);">$100</div>
<div class="t " style="left:1414.40px;top:511px;font-size:16px;transform:scaleX(0.9860);">$125</div>
<div class="t " style="left:1487.50px;top:512px;font-size:16px;transform:scaleX(0.9860);">$150</div>
<div class="t " style="left:1560.20px;top:512px;font-size:16px;transform:scaleX(0.9860);">$175</div>
<div class="t " style="left:1633.30px;top:512px;font-size:16px;transform:scaleX(0.9860);">$200</div>
<div class="t " style="left:1706.40px;top:512px;font-size:16px;transform:scaleX(0.9860);">$225</div>
<div class="t " style="left:1783.40px;top:512px;font-size:16px;transform:scaleX(0.9860);">$250</div>
<div class="t " style="left:69.00px;top:536px;font-size:16px;transform:scaleX(0.9376);">Thursday, March 19, 2026</div>
<div class="t " style="left:300.95px;top:535px;font-size:15.2px;letter-spacing:0.361px;">645.60</div>
<div class="t " style="left:375.95px;top:535px;font-size:15.2px;letter-spacing:0.361px;">649.22</div>
<div class="t " style="left:450.95px;top:535px;font-size:15.2px;letter-spacing:0.361px;">652.88</div>
<div class="t " style="left:525.95px;top:535px;font-size:15.2px;letter-spacing:0.361px;">654.48</div>
<div class="t " style="left:600.10px;top:535px;font-size:15.2px;letter-spacing:0.701px;font-weight:700;">658.20</div>
<div class="t " style="left:675.95px;top:535px;font-size:15.2px;letter-spacing:0.361px;color:#fff;">659.72</div>
<div class="t " style="left:750.95px;top:535px;font-size:15.2px;letter-spacing:0.361px;color:#fff;">661.31</div>
<div class="t " style="left:825.95px;top:535px;font-size:15.2px;letter-spacing:0.361px;">668.38</div>
<div class="t " style="left:949.20px;top:536px;font-size:16px;letter-spacing:0.092px;font-weight:700;">12.00</div>
<div class="t " style="left:1142.50px;top:535px;font-size:16px;transform:scaleX(0.9860);">$600</div>
<div class="t " style="left:1210.60px;top:535px;font-size:16px;transform:scaleX(0.9766);">$1,200</div>
<div class="t " style="left:1278.20px;top:535px;font-size:16px;transform:scaleX(0.9766);">$1,800</div>
<div class="t " style="left:1346.40px;top:535px;font-size:16px;transform:scaleX(0.9766);">$2,400</div>
<div class="t " style="left:1414.40px;top:535px;font-size:16px;transform:scaleX(0.9766);">$3,000</div>
<div class="t " style="left:1487.50px;top:536px;font-size:16px;transform:scaleX(0.9766);">$3,600</div>
<div class="t " style="left:1560.20px;top:536px;font-size:16px;transform:scaleX(0.9766);">$4,200</div>
<div class="t " style="left:1633.30px;top:536px;font-size:16px;transform:scaleX(0.9766);">$4,800</div>
<div class="t " style="left:1706.40px;top:536px;font-size:16px;transform:scaleX(0.9766);">$5,400</div>
<div class="t " style="left:1783.40px;top:536px;font-size:16px;transform:scaleX(0.9766);">$6,000</div>
<div class="t " style="left:1142.10px;top:559px;font-size:16px;letter-spacing:0.307px;font-weight:700;">$12,113</div>
<div class="t " style="left:1210.20px;top:559px;font-size:16px;letter-spacing:0.160px;font-weight:700;">$24,225</div>
<div class="t " style="left:1277.80px;top:559px;font-size:16px;letter-spacing:0.160px;font-weight:700;">$36,338</div>
<div class="t " style="left:1346.00px;top:559px;font-size:16px;letter-spacing:0.160px;font-weight:700;">$48,450</div>
<div class="t " style="left:1414.00px;top:559px;font-size:16px;letter-spacing:0.160px;font-weight:700;">$60,563</div>
<div class="t " style="left:1487.10px;top:559px;font-size:16px;letter-spacing:0.160px;font-weight:700;">$72,675</div>
<div class="t " style="left:1559.80px;top:559px;font-size:16px;letter-spacing:0.160px;font-weight:700;">$84,788</div>
<div class="t " style="left:1632.90px;top:559px;font-size:16px;letter-spacing:0.160px;font-weight:700;">$96,900</div>
<div class="t " style="left:1706.00px;top:559px;font-size:16px;letter-spacing:0.109px;font-weight:700;">$109,013</div>
<div class="t " style="left:1783.00px;top:559px;font-size:16px;letter-spacing:0.109px;font-weight:700;">$121,125</div>
<div class="t " style="left:20.80px;top:560px;font-size:16px;font-weight:700;transform:scaleX(0.8962);">Grand Total</div>
<div class="t " style="left:20.20px;top:224px;font-size:16px;font-weight:700;transform:scaleX(0.9110);">Date</div>
<div class="t " style="left:316.20px;top:223px;font-size:16px;font-weight:700;transform:scaleX(0.8355);">L1</div>
<div class="t " style="left:391.20px;top:223px;font-size:16px;font-weight:700;transform:scaleX(0.8355);">L2</div>
<div class="t " style="left:466.20px;top:223px;font-size:16px;font-weight:700;transform:scaleX(0.8355);">L3</div>
<div class="t " style="left:541.20px;top:223px;font-size:16px;font-weight:700;transform:scaleX(0.8355);">L4</div>
<div class="t " style="left:616.20px;top:223px;font-size:16px;font-weight:700;transform:scaleX(0.8355);">L5</div>
<div class="t " style="left:691.20px;top:223px;font-size:16px;font-weight:700;transform:scaleX(0.8355);">L6</div>
<div class="t " style="left:766.20px;top:223px;font-size:16px;font-weight:700;transform:scaleX(0.8355);">L7</div>
<div class="t " style="left:841.20px;top:223px;font-size:16px;font-weight:700;transform:scaleX(0.8355);">L8</div>
<div class="t " style="left:907.70px;top:223px;font-size:16px;font-weight:700;transform:scaleX(0.8355);">L9</div>
<div class="t " style="left:953.85px;top:223px;font-size:16px;font-weight:700;transform:scaleX(0.8795);">Base Hit</div>
<div class="t " style="left:1023.25px;top:223px;font-size:16px;font-weight:700;transform:scaleX(0.9227);">Fumble</div>
<div class="t " style="left:1095.00px;top:223px;font-size:16px;font-weight:700;transform:scaleX(0.8290);">TKO</div>
<div class="t " style="left:1167.05px;top:223px;font-size:16px;font-weight:700;">1</div>
<div class="t " style="left:1235.55px;top:223px;font-size:16px;font-weight:700;">2</div>
<div class="t " style="left:1303.05px;top:223px;font-size:16px;font-weight:700;">3</div>
<div class="t " style="left:1370.75px;top:223px;font-size:16px;font-weight:700;">4</div>
<div class="t " style="left:1440.65px;top:223px;font-size:16px;font-weight:700;">5</div>
<div class="t " style="left:1514.05px;top:223px;font-size:16px;font-weight:700;">6</div>
<div class="t " style="left:1587.15px;top:223px;font-size:16px;font-weight:700;">7</div>
<div class="t " style="left:1659.95px;top:223px;font-size:16px;font-weight:700;">8</div>
<div class="t " style="left:1734.65px;top:223px;font-size:16px;font-weight:700;">9</div>
<div class="t " style="left:1807.90px;top:223px;font-size:16px;font-weight:700;">10</div>
<div class="fb" style="left:270px;top:225px"><svg width="15" height="15" viewBox="271 226 15 15"><path d="M276 229h9.2v.6l-3.1 2.4v4.8h-3.1v-4.8l-3-2.4z" fill="#585858"/><path d="M273 235h5l-2.5 2.9z" fill="#666"/></svg></div>
<div class="t " style="left:589.25px;top:197px;font-size:19px;font-weight:700;color:#0070c0;transform:scaleX(0.9519);">Levels</div>
<div class="t " style="left:983.50px;top:197px;font-size:19px;letter-spacing:0.083px;font-weight:700;color:#0070c0;">Performance</div>
<div class="t " style="left:1234.50px;top:197px;font-size:19px;font-weight:700;color:#0070c0;transform:scaleX(0.9851);">Quantity of ES Contracts Traded at Each Level, Daily Totals</div>
<div class="t " style="left:23.00px;top:183px;font-size:23px;font-weight:700;color:#0070c0;transform:scaleX(0.9196);">Playing-by-the-Rules Log</div>
</section>
<section id="summary" aria-label="Account summary and averages">
<div class="t " style="left:346.40px;top:145px;font-size:16px;transform:scaleX(0.9077);">Starting balance:</div>
<div class="t " style="left:346.40px;top:170px;font-size:16px;transform:scaleX(0.9147);">Current balance:</div>
<div class="t " style="left:516.50px;top:145px;font-size:16px;letter-spacing:-0.007px;font-weight:700;">$50,000</div>
<div class="t " style="left:516.50px;top:169px;font-size:16px;letter-spacing:-0.007px;font-weight:700;">$74,225</div>
<div class="t " style="left:662.30px;top:145px;font-size:16px;font-weight:700;transform:scaleX(0.8871);">Total RoR:</div>
<div class="t " style="left:748.30px;top:145px;font-size:16px;font-weight:700;transform:scaleX(0.9784);">48.45%</div>
<div class="t " style="left:1281.30px;top:25px;font-size:16px;font-weight:700;transform:scaleX(0.9025);">Total Trade Days:</div>
<div class="t " style="left:1348.40px;top:49px;font-size:16px;font-weight:700;transform:scaleX(0.8636);">Profit %</div>
<div class="t " style="left:1353.30px;top:73px;font-size:16px;font-weight:700;transform:scaleX(0.8444);">Loss %</div>
<div class="t " style="left:1414.50px;top:24px;font-size:16px;font-weight:700;transform:scaleX(0.9555);">50</div>
<div class="t " style="left:1414.50px;top:48px;font-size:16px;font-weight:700;transform:scaleX(0.9747);">82.00%</div>
<div class="t " style="left:1415.20px;top:72px;font-size:16px;font-weight:700;transform:scaleX(0.9618);">18.00%</div>
<div class="t " style="left:1034.80px;top:122px;font-size:16px;font-weight:700;transform:scaleX(0.9029);">Daily Average:</div>
<div class="t " style="left:1020.40px;top:146px;font-size:16px;font-weight:700;transform:scaleX(0.9243);">Average $/Hour:</div>
<div class="t " style="left:1155.25px;top:121px;font-size:16px;transform:scaleX(0.9860);">$242</div>
<div class="t " style="left:1159.70px;top:145px;font-size:16px;transform:scaleX(0.9817);">$42</div>
<div class="t " style="left:1223.25px;top:121px;font-size:16px;transform:scaleX(0.9860);">$485</div>
<div class="t " style="left:1227.70px;top:145px;font-size:16px;transform:scaleX(0.9817);">$84</div>
<div class="t " style="left:1291.25px;top:121px;font-size:16px;transform:scaleX(0.9860);">$727</div>
<div class="t " style="left:1291.25px;top:145px;font-size:16px;transform:scaleX(0.9860);">$126</div>
<div class="t " style="left:1359.25px;top:121px;font-size:16px;transform:scaleX(0.9860);">$969</div>
<div class="t " style="left:1359.25px;top:145px;font-size:16px;transform:scaleX(0.9860);">$169</div>
<div class="t " style="left:1423.40px;top:121px;font-size:16px;letter-spacing:0.011px;">$1,211</div>
<div class="t " style="left:1429.75px;top:145px;font-size:16px;letter-spacing:0.233px;">$211</div>
<div class="t " style="left:1496.40px;top:121px;font-size:16px;transform:scaleX(0.9766);">$1,454</div>
<div class="t " style="left:1502.75px;top:145px;font-size:16px;transform:scaleX(0.9860);">$253</div>
<div class="t " style="left:1569.90px;top:121px;font-size:16px;transform:scaleX(0.9766);">$1,696</div>
<div class="t " style="left:1576.25px;top:145px;font-size:16px;transform:scaleX(0.9860);">$295</div>
<div class="t " style="left:1643.40px;top:121px;font-size:16px;transform:scaleX(0.9766);">$1,938</div>
<div class="t " style="left:1649.75px;top:145px;font-size:16px;transform:scaleX(0.9860);">$337</div>
<div class="t " style="left:1717.90px;top:121px;font-size:16px;transform:scaleX(0.9766);">$2,180</div>
<div class="t " style="left:1724.25px;top:145px;font-size:16px;transform:scaleX(0.9860);">$379</div>
<div class="t " style="left:1794.40px;top:121px;font-size:16px;transform:scaleX(0.9766);">$2,423</div>
<div class="t " style="left:1800.75px;top:145px;font-size:16px;transform:scaleX(0.9860);">$421</div>
</section>
<section id="kpi" aria-label="Outcome percentages">
<div class="r" style="left:1779px;top:20px;width:78px;height:24px;background:#3b9262;"></div>
<div class="r" style="left:1779px;top:44px;width:78px;height:24px;background:#ffff00;"></div>
<div class="r" style="left:1779px;top:68px;width:78px;height:25px;background:#ff0000;"></div>
<div class="t " style="left:1706.60px;top:24px;font-size:16px;transform:scaleX(0.9143);">Base Hits</div>
<div class="t " style="left:1711.70px;top:48px;font-size:16px;transform:scaleX(0.9371);">Fumbles</div>
<div class="t " style="left:1735.50px;top:72px;font-size:16px;transform:scaleX(0.8240);">TKOs</div>
<div class="t " style="left:1783.50px;top:25px;font-size:14.67px;letter-spacing:0.288px;color:#fff;">77.78%</div>
<div class="t " style="left:1783.90px;top:49px;font-size:14.67px;letter-spacing:0.128px;">12.70%</div>
<div class="t " style="left:1782.60px;top:73px;font-size:14.67px;letter-spacing:0.253px;color:#fff;">9.52%</div>
</section>
<section id="legend" aria-label="Colour legend">
<div class="r" style="left:782px;top:34px;width:76px;height:26px;background:#3b9262;"></div>
<div class="hd" style="left:781px;top:33px;width:78px;background-position:1px 0"></div>
<div class="hd" style="left:781px;top:60px;width:78px;background-position:1px 0"></div>
<div class="vd" style="left:781px;top:33px;height:28px;background-position:0 0px"></div>
<div class="vd" style="left:858px;top:33px;height:28px;background-position:0 0px"></div>
<div class="t " style="left:796.00px;top:38px;font-size:15.2px;letter-spacing:0.101px;font-weight:700;color:#fff;">###.##</div>
<div class="t " style="left:866.30px;top:39px;font-size:16px;transform:scaleX(0.9279);">= Base Hit</div>
<div class="r" style="left:782px;top:67px;width:76px;height:26px;background:#ffff00;"></div>
<div class="hd" style="left:781px;top:66px;width:78px;background-position:1px 0"></div>
<div class="hd" style="left:781px;top:93px;width:78px;background-position:1px 0"></div>
<div class="vd" style="left:781px;top:66px;height:28px;background-position:0 1px"></div>
<div class="vd" style="left:858px;top:66px;height:28px;background-position:0 1px"></div>
<div class="t " style="left:796.00px;top:71px;font-size:15.2px;letter-spacing:0.101px;font-weight:700;">###.##</div>
<div class="t " style="left:866.30px;top:73px;font-size:16px;transform:scaleX(0.9458);">= Fumble</div>
<div class="r" style="left:782px;top:100px;width:76px;height:26px;background:#ff0000;"></div>
<div class="hd" style="left:781px;top:99px;width:78px;background-position:1px 0"></div>
<div class="hd" style="left:781px;top:126px;width:78px;background-position:1px 0"></div>
<div class="vd" style="left:781px;top:99px;height:28px;background-position:0 0px"></div>
<div class="vd" style="left:858px;top:99px;height:28px;background-position:0 0px"></div>
<div class="t " style="left:796.00px;top:104px;font-size:15.2px;letter-spacing:0.101px;font-weight:700;color:#fff;">###.##</div>
<div class="t " style="left:866.30px;top:105px;font-size:16px;transform:scaleX(0.8343);">= TKO</div>
</section>
<section id="notes" aria-label="Daily notes">
<div class="t " style="left:136.70px;top:584px;font-size:16px;font-weight:700;transform:scaleX(0.9657);">Notes for 3/19/2026:</div>
<div class="t " style="left:291.60px;top:584px;font-size:16px;transform:scaleX(0.9284);">L5: wash (near miss of profit objective) / L6: base / L7: base / L6: base on Recycle</div>
</section>
<section id="slicers" aria-label="Years and Months slicers">
<div class="sl" style="left:10px;top:11px;width:233px;height:128px"></div>
<div class="r" style="left:21px;top:45px;width:213px;height:1px;background:#1e9bd7;"></div>
<div class="t " style="left:21.30px;top:20px;font-size:16px;font-weight:700;transform:scaleX(0.9203);">Years</div>
<div class="sl" style="left:259px;top:11px;width:442px;height:128px"></div>
<div class="r" style="left:270px;top:45px;width:422px;height:1px;background:#1e9bd7;"></div>
<div class="t " style="left:270.30px;top:20px;font-size:16px;font-weight:700;transform:scaleX(0.8931);">Months</div>
<div class="bt" style="left:21px;top:50px;width:66px"></div>
<div class="t " style="left:32.30px;top:58px;font-size:15.2px;letter-spacing:0.527px;">2022</div>
<div class="bt" style="left:93px;top:50px;width:66px"></div>
<div class="t " style="left:104.30px;top:58px;font-size:15.2px;letter-spacing:0.527px;">2023</div>
<div class="bt" style="left:165px;top:50px;width:66px"></div>
<div class="t " style="left:176.30px;top:58px;font-size:15.2px;letter-spacing:0.527px;">2024</div>
<div class="bt" style="left:21px;top:86px;width:66px"></div>
<div class="t " style="left:32.30px;top:94px;font-size:15.2px;letter-spacing:0.527px;">2025</div>
<div class="bt sel" style="left:93px;top:86px;width:66px"></div>
<div class="t " style="left:104.30px;top:94px;font-size:15.2px;letter-spacing:0.527px;">2026</div>
<div class="bt sel" style="left:269px;top:50px;width:65px"></div>
<div class="t " style="left:279.90px;top:58px;font-size:15.8px;transform:scaleX(0.8481);">Jan</div>
<div class="bt sel" style="left:340px;top:50px;width:65px"></div>
<div class="t " style="left:350.90px;top:58px;font-size:15.8px;transform:scaleX(0.8706);">Feb</div>
<div class="bt sel" style="left:411px;top:50px;width:65px"></div>
<div class="t " style="left:421.90px;top:58px;font-size:15.8px;transform:scaleX(0.8931);">Mar</div>
<svg class="ic" style="left:170px;top:15px" width="28" height="26" viewBox="170 15 28 26" fill="none"><path d="M175.0 23.2l2.5 2.1l5-5.1 M175.0 28.9l2.5 2.1l5-5.1 M175.0 34.5l2.5 2.1l5-5.1" stroke="#333" stroke-width="1.05"/><path d="M183.4 24.1h8.7" stroke="#7a7a7a" stroke-width="1.1"/><path d="M183.4 29.9h8.7" stroke="#7a7a7a" stroke-width="1.7" stroke-opacity=".8"/><path d="M183.4 35.4h8.7" stroke="#7a7a7a" stroke-width="1"/></svg>
<svg class="ic" style="left:208px;top:15px" width="26" height="26" viewBox="208 15 26 26" fill="none"><path d="M212.3 20.4h15.6v3l-5.4 4.9l-3.8 1v7.2h-1.2v-7.8l-5.2-5.3z" fill="#f6f6f6"/><path d="M223.0 27.9l4.9-4.5v-3h-15.6v3l6.1 5.6v7.4h1.2" stroke="#2b2b2b" stroke-width="1.05"/><path d="M220.7 28.7l9 8.9M229.7 28.5l-9 9.1" stroke="#ec3b41" stroke-width="1.25"/></svg>
<svg class="ic" style="left:628px;top:15px" width="28" height="26" viewBox="628 15 28 26" fill="none"><path d="M633.0 23.2l2.5 2.1l5-5.1 M633.0 28.9l2.5 2.1l5-5.1 M633.0 34.5l2.5 2.1l5-5.1" stroke="#3a3a3a" stroke-width="1.05"/><path d="M641.4 24.1h8.7" stroke="#7a7a7a" stroke-width="1.1"/><path d="M641.4 29.9h8.7" stroke="#7a7a7a" stroke-width="1.7" stroke-opacity=".8"/><path d="M641.4 35.4h8.7" stroke="#7a7a7a" stroke-width="1"/></svg>
<svg class="ic" style="left:666px;top:15px" width="26" height="26" viewBox="666 15 26 26" fill="none"><path d="M670.3 20.4h15.6v3l-5.4 4.9l-3.8 1v7.2h-1.2v-7.8l-5.2-5.3z" fill="#f1f1f1"/><path d="M681.0 27.9l4.9-4.5v-3h-15.6v3l6.1 5.6v7.4h1.2" stroke="#b9b9b9" stroke-width="1.05"/><path d="M678.7 28.7l9 8.9M687.7 28.5l-9 9.1" stroke="#b9b9b9" stroke-width="1.25"/></svg>
</section>
</div></body></html>
